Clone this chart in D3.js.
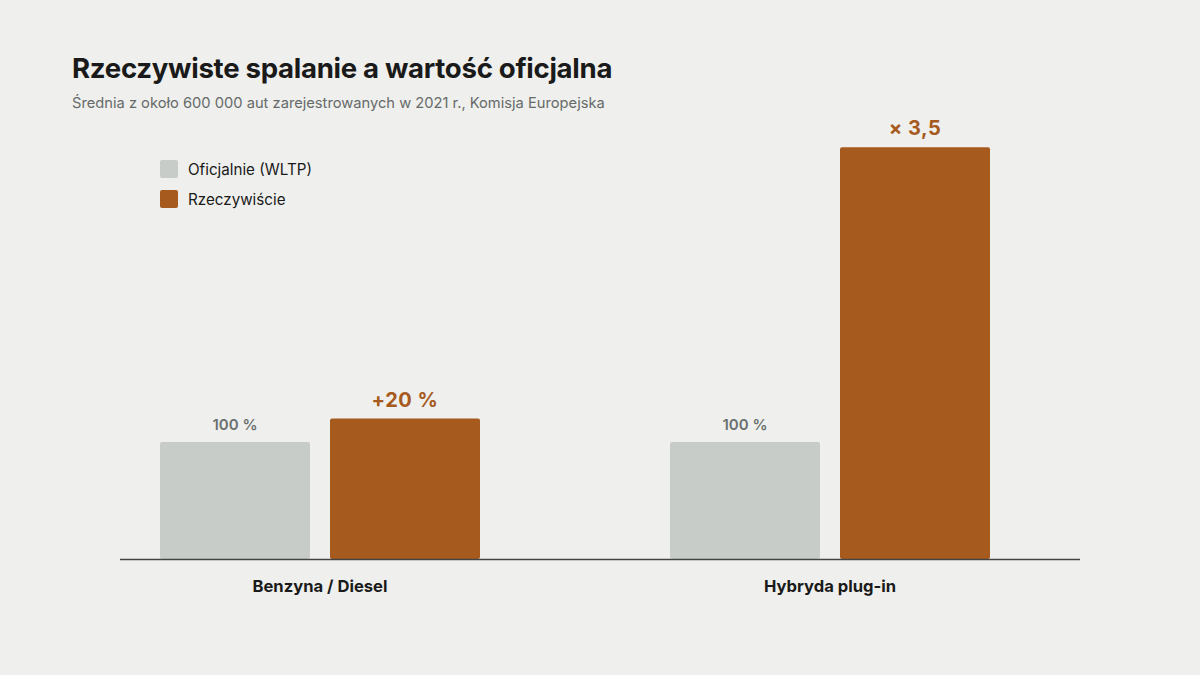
<!DOCTYPE html>
<html>
<head>
<meta charset="utf-8">
<script src="https://cdn.jsdelivr.net/npm/d3@7"></script>
<style>
  body { margin: 0; background: #eff0ed; }
  svg { display: block; font-family: "Inter", "Liberation Sans", sans-serif; }
</style>
</head>
<body>
<div id="chart"></div>
<script>
// data
var categories = ['Benzyna / Diesel', 'Hybryda plug-in'];
var series = ['Oficjalnie (WLTP)', 'Rzeczywiście'];
var official = [100, 100];
var real = [120, 352];
var officialLabels = ['100 %', '100 %'];
var realLabels = ['+20 %', '× 3,5'];

var colors = ['#c7ccc8', '#a65a1e'];

var W = 1200, H = 675;
var svg = d3.select('#chart').append('svg')
  .attr('width', W)
  .attr('height', H);

svg.append('rect').attr('width', W).attr('height', H).attr('fill', '#eff0ed');

// title
svg.append('text')
  .attr('x', 72).attr('y', 78)
  .attr('font-size', 27.6).attr('font-weight', 700)
  .attr('fill', '#1a1a1a')
  .style('letter-spacing', '-0.3px')
  .text('Rzeczywiste spalanie a wartość oficjalna');

svg.append('text')
  .attr('x', 72).attr('y', 108)
  .attr('font-size', 14.7)
  .attr('fill', '#666a6a')
  .text('Średnia z około 600 000 aut zarejestrowanych w 2021 r., Komisja Europejska');

// scales
var y = d3.scaleLinear().domain([0, 100]).range([559, 442]);
var groupX = d3.scalePoint().domain(categories).range([160, 670]);   // left edge of each group
var barX = d3.scaleBand().domain(series).range([0, 320]).paddingInner(20 / 170); // 150 wide, 20 gap

var rows = categories.map(function(c, i) {
  return { cat: c, vals: [
    { s: series[0], v: official[i], label: officialLabels[i] },
    { s: series[1], v: real[i], label: realLabels[i] }
  ]};
});

var g = svg.selectAll('g.grp').data(rows).enter().append('g')
  .attr('class', 'grp')
  .attr('transform', function(d) { return 'translate(' + groupX(d.cat) + ',0)'; });

g.selectAll('rect').data(function(d) { return d.vals; }).enter().append('rect')
  .attr('x', function(d) { return barX(d.s); })
  .attr('y', function(d) { return y(d.v); })
  .attr('width', barX.bandwidth())
  .attr('height', function(d) { return y(0) - y(d.v); })
  .attr('rx', 2)
  .attr('fill', function(d, i) { return colors[i]; });

g.selectAll('text.val').data(function(d) { return d.vals; }).enter().append('text')
  .attr('class', 'val')
  .attr('x', function(d) { return barX(d.s) + barX.bandwidth() / 2; })
  .attr('y', function(d) { return y(d.v) - 12; })
  .attr('text-anchor', 'middle')
  .attr('font-size', function(d, i) { return i === 0 ? 15 : 20; })
  .attr('font-weight', function(d, i) { return i === 0 ? 600 : 700; })
  .attr('fill', function(d, i) { return i === 0 ? '#6b7070' : '#a65a1e'; })
  .style('letter-spacing', function(d, i) { return i === 0 ? '0px' : '0.5px'; })
  .text(function(d) { return d.label; });

// category labels
g.append('text')
  .attr('x', 160)
  .attr('y', 592)
  .attr('text-anchor', 'middle')
  .attr('font-size', 16.6)
  .attr('font-weight', 700)
  .attr('fill', '#1a1a1a')
  .text(function(d) { return d.cat; });

// baseline
svg.append('line')
  .attr('x1', 120).attr('x2', 1080)
  .attr('y1', y(0) + 0.5).attr('y2', y(0) + 0.5)
  .attr('stroke', '#444')
  .attr('stroke-width', 1.5);

// legend
var leg = svg.selectAll('g.leg').data(series).enter().append('g')
  .attr('class', 'leg')
  .attr('transform', function(d, i) { return 'translate(160,' + (160 + i * 30) + ')'; });

leg.append('rect')
  .attr('width', 18).attr('height', 18).attr('rx', 2)
  .attr('fill', function(d, i) { return colors[i]; });

leg.append('text')
  .attr('x', 28).attr('y', 14.5)
  .attr('font-size', 15.2)
  .attr('fill', '#1a1a1a')
  .text(function(d) { return d; });
</script>
</body>
</html>
